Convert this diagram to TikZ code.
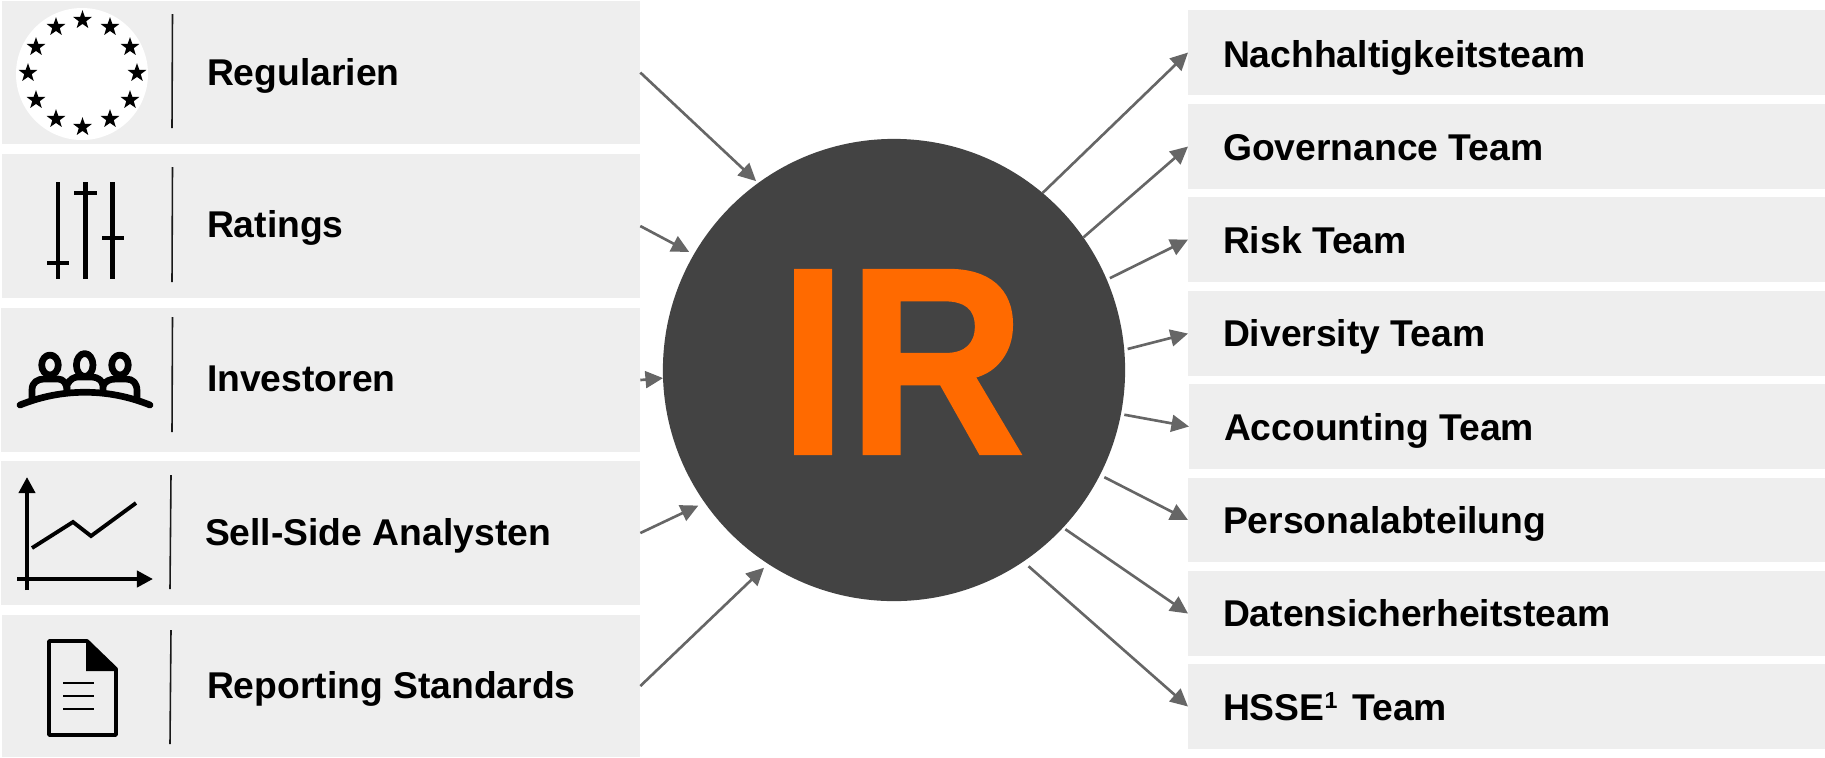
\documentclass[tikz,border=0pt]{standalone}
\usepackage{fontspec}
\setmainfont{Liberation Sans}
\newfontfamily\irfont{Liberation Sans Bold}[FakeBold=1]
\usepackage{tikz}
\usetikzlibrary{arrows.meta}
\usetikzlibrary{shapes.geometric}
\begin{document}
\begin{tikzpicture}[x=0.01cm,y=-0.01cm,
    box/.style={fill=boxgray,draw=none,inner sep=0pt,outer sep=0pt,anchor=north west},
    lbl/.style={anchor=base west,inner sep=0pt,outer sep=0pt,font=\fontsize{10.6}{13}\selectfont\bfseries},
    flow/.style={draw=arrowgray,line width=0.75pt,-{Triangle[length=5pt,width=4.8pt]}},
    sep/.style={draw=black!90,line width=0.45pt},
    person/.style={line width=1.9pt,line join=round},
    eustar/.style={star,star points=5,star point ratio=2.5,fill=black,inner sep=0pt,outer sep=0pt,minimum size=5.6pt}]
    \definecolor{boxgray}{HTML}{EEEEEE}
    \definecolor{arrowgray}{HTML}{666666}
    \definecolor{irdark}{HTML}{434343}
    \definecolor{irorange}{HTML}{FF6A00}
    \useasboundingbox (0,0) rectangle (1825,757);
    \node[box,minimum width=638*0.2845pt,minimum height=143*0.2845pt] (L1) at (2,1) {};
    \node[box,minimum width=638*0.2845pt,minimum height=144*0.2845pt] (L2) at (2,154) {};
    \node[box,minimum width=639*0.2845pt,minimum height=144*0.2845pt] (L3) at (1,308) {};
    \node[box,minimum width=639*0.2845pt,minimum height=144*0.2845pt] (L4) at (1,461) {};
    \node[box,minimum width=638*0.2845pt,minimum height=142*0.2845pt] (L5) at (2,615) {};
    \node[box,minimum width=637*0.2845pt,minimum height=85*0.2845pt] (R1) at (1188,10) {};
    \node[box,minimum width=637*0.2845pt,minimum height=85*0.2845pt] (R2) at (1188,104) {};
    \node[box,minimum width=637*0.2845pt,minimum height=85*0.2845pt] (R3) at (1188,197) {};
    \node[box,minimum width=637*0.2845pt,minimum height=85*0.2845pt] (R4) at (1188,291) {};
    \node[box,minimum width=636*0.2845pt,minimum height=85*0.2845pt] (R5) at (1189,384) {};
    \node[box,minimum width=637*0.2845pt,minimum height=84*0.2845pt] (R6) at (1188,478) {};
    \node[box,minimum width=637*0.2845pt,minimum height=85*0.2845pt] (R7) at (1188,571) {};
    \node[box,minimum width=637*0.2845pt,minimum height=85*0.2845pt] (R8) at (1188,664) {};
    \node[lbl] (T1) at (207,85) {Regularien};
    \node[lbl] (T2) at (207,237) {Ratings};
    \node[lbl] (T3) at (207,391) {Investoren};
    \node[lbl] (T4) at (205,545) {Sell-Side Analysten};
    \node[lbl] (T5) at (207,698) {Reporting Standards};
    \node[lbl] (A1) at (1223,67) {Nachhaltigkeitsteam};
    \node[lbl] (A2) at (1223,160) {Governance Team};
    \node[lbl] (A3) at (1223,253) {Risk Team};
    \node[lbl] (A4) at (1223,346) {Diversity Team};
    \node[lbl] (A5) at (1224,440) {Accounting Team};
    \node[lbl] (A6) at (1223,533) {Personalabteilung};
    \node[lbl] (A7) at (1223,626) {Datensicherheitsteam};
    \node[lbl] (A8) at (1223,720) {HSSE\raisebox{3.4pt}{\fontsize{6.6}{7}\selectfont 1}\kern1.3pt{} Team};
    \node[circle,fill=irdark,inner sep=0pt,outer sep=0pt,minimum size=462*0.2845pt] (IR) at (894,370) {};
    \node[inner sep=0pt,text=irorange,font=\fontsize{73}{80}\irfont,transform shape,xscale=0.96,yscale=1.04] (IRtext) at (902,362) {IR};
    \draw[flow,shorten >=0.8pt] (L1.east) -- (IR.126);
    \draw[flow,shorten >=1.5pt] (L2.east) -- (IR.150);
    \draw[flow] (L3.east) -- (IR.182);
    \draw[flow,shorten >=2pt] (L4.east) -- (IR.215);
    \draw[flow,shorten >=1.6pt] (L5.east) -- (IR.237);
    \draw[flow] (IR.50) -- (R1.west);
    \draw[flow] (IR.35) -- (R2.west);
    \draw[flow,shorten <=1pt] (IR.23) -- (R3.west);
    \draw[flow,shorten <=1pt] (IR.5) -- (R4.west);
    \draw[flow,shorten <=1pt] (IR.-11) -- (R5.west);
    \draw[flow,shorten <=1.4pt] (IR.-27) -- (R6.west);
    \draw[flow,shorten <=0.8pt] (IR.-43) -- (R7.west);
    \draw[flow,shorten <=2pt] (IR.-56) -- (R8.west);
    \draw[sep] (172.5,14) -- (172,128);
    \draw[sep] (172.5,167) -- (172,282);
    \draw[sep] (172.5,317) -- (172,432);
    \draw[sep] (171,475) -- (170,589);
    \draw[sep] (171,630) -- (170,744);
    \fill[white] (82,74) circle (66);
    \node[eustar] (S1) at (82.5,20) {};
    \node[eustar] (S2) at (110,27) {};
    \node[eustar] (S3) at (130,47) {};
    \node[eustar] (S4) at (137,73) {};
    \node[eustar] (S5) at (130,100) {};
    \node[eustar] (S6) at (110,119) {};
    \node[eustar] (S7) at (82.5,127) {};
    \node[eustar] (S8) at (56,119) {};
    \node[eustar] (S9) at (36,100) {};
    \node[eustar] (S10) at (28,73) {};
    \node[eustar] (S11) at (36,47) {};
    \node[eustar] (S12) at (56,27) {};
    \draw[line width=1.15pt] (58,182) -- (58,279);
    \draw[line width=1.15pt] (47,263) -- (69,263);
    \draw[line width=1.15pt] (85.5,182) -- (85.5,279);
    \draw[line width=1.15pt] (74,193) -- (97,193);
    \draw[line width=1.15pt] (112.5,182) -- (112.5,279);
    \draw[line width=1.15pt] (102,238) -- (124,238);
    \draw[person,line cap=round] (20,405) .. controls (62,388) and (108,388) .. (150,405);
    \draw[person] (50,365) ellipse (8.3 and 10);
    \draw[person] (84.7,365) ellipse (8.3 and 11.5);
    \draw[person] (120,365) ellipse (8.3 and 10);
    \draw[person] (32,398) -- (32,390) .. controls (32,382) and (38,379) .. (44,379) -- (58,379) .. controls (63,379) and (67,383) .. (67,391);
    \draw[person] (67,391) -- (67,385) .. controls (70,379) and (74,377) .. (78,377) -- (92,377) .. controls (98,377) and (103,381) .. (103,386) -- (103,391);
    \draw[person] (103,386) .. controls (105,381) and (110,379) .. (116,379) -- (126,379) .. controls (133,379) and (137,383) .. (137,391) -- (137,398);
    \draw[line width=1.1pt,-{Triangle[length=4.6pt,width=4.6pt]}] (27,590) -- (27,477);
    \draw[line width=1.1pt,-{Triangle[length=4.6pt,width=4.6pt]}] (17,579) -- (153,579);
    \draw[line width=1.1pt] (32,548) -- (73,522) -- (91,536) -- (136,503);
    \draw[line width=1.1pt,line join=round] (49,641) -- (87,641) -- (116,669) -- (116,735) -- (49,735) -- cycle;
    \fill (86,641) -- (116,671) -- (86,671) -- cycle;
    \draw[line width=0.45pt] (63,683) -- (94,683);
    \draw[line width=0.45pt] (63,696) -- (94,696);
    \draw[line width=0.45pt] (63,709) -- (94,709);
\end{tikzpicture}
\end{document}
